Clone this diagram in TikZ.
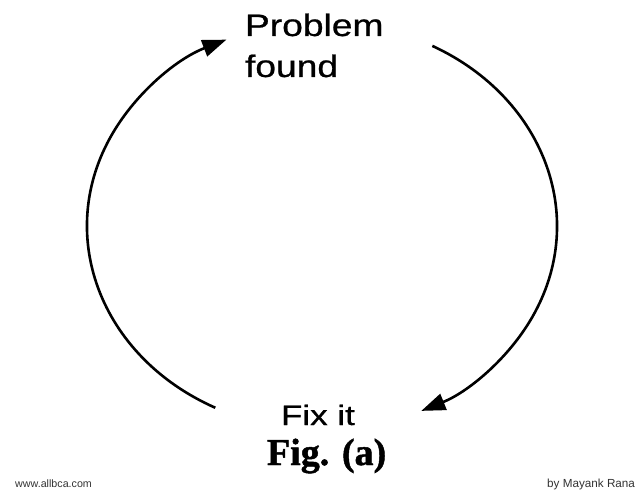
\documentclass[tikz,border=0pt]{standalone}
\usepackage{fontspec}
\setmainfont{Liberation Serif}
\newfontfamily\lsans[FakeBold=0.7]{Liberation Sans}
\newfontfamily\lsansthin{Liberation Sans}
\newfontfamily\figfont[FakeBold=1.2]{Liberation Serif Bold}
\usetikzlibrary{arrows.meta,calc}
\tikzset{
  cyc/.style={line width=2.6pt, -{Triangle[length=24pt,width=17pt]}},
  lbl/.style={anchor=base west, inner sep=0pt, outer sep=0pt},
  wmark/.style={anchor=base west, inner sep=0pt, text=black!80}
}
\begin{document}
\begin{tikzpicture}[x=1pt,y=1pt]
\useasboundingbox (0,0) rectangle (640,499);
\fill[white] (0,0) rectangle (640,499);
% labels
\node[lbl] (prob) at (245,463) {\lsans\fontsize{31}{31}\selectfont\scalebox{1.2}[1]{Problem}};
\node[lbl] (found) at (245,422) {\lsans\fontsize{31}{31}\selectfont\scalebox{1.2}[1]{found}};
\node[lbl] (fix) at (281,74) {\lsans\fontsize{28}{28}\selectfont\scalebox{1.25}[1]{Fix it}};
\node[lbl] (fig) at (267,34) {\figfont\fontsize{38}{38}\selectfont Fig. (a)};
\node[wmark] (web) at (15,12) {\lsansthin\fontsize{10.7}{11}\selectfont www.allbca.com};
\node[wmark] (auth) at (547,12) {\lsansthin\fontsize{11.7}{12}\selectfont by Mayank Rana};
% cycle arcs
\coordinate (c) at (322,273);
\coordinate (ls) at ($(c)+(243:235 and 204)$);
\coordinate (rs) at ($(c)+(62:235 and 204)$);
\draw[cyc] (ls) arc[start angle=243, end angle=114, x radius=235, y radius=204];
\draw[cyc] (rs) arc[start angle=62, end angle=-65, x radius=235, y radius=204];
\end{tikzpicture}
\end{document}
